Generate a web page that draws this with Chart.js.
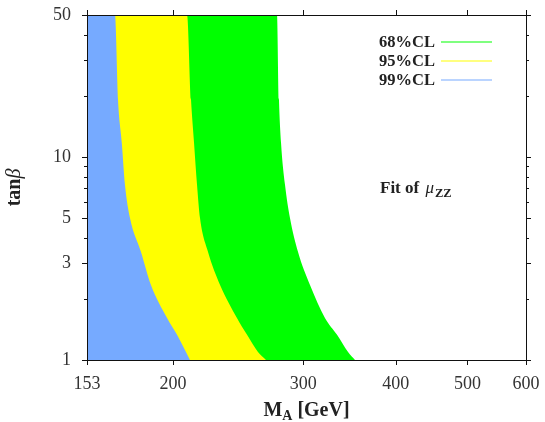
<!DOCTYPE html>
<html>
<head>
<meta charset="utf-8">
<script src="https://cdn.jsdelivr.net/npm/chart.js@4.4.0/dist/chart.umd.min.js"></script>
<style>
html, body { margin: 0; padding: 0; background: #fff; }
</style>
</head>
<body>
<canvas id="clChart" width="545" height="422"></canvas>
<script>
// boundaries of the allowed regions in the (M_A, tan beta) plane,
// read off the picture; the region lies left of / below each boundary
const tanBeta = [1, 1.095, 1.33, 1.61, 2.34, 3.4, 5.0, 7.27, 11.7, 19.1, 50];
const ma68 = [352.4, 344.8, 333.2, 320.9, 306.3, 295.1, 287.8, 283.4, 279.9, 278.1, 276.4];
const ma95 = [267.1, 260.5, 251.8, 244.0, 231.5, 223.0, 217.5, 215.5, 213.5, 211.5, 208.9];
const ma99 = [210.8, 208.2, 202.5, 196.3, 186.7, 181.0, 174.9, 172.2, 170.5, 168.5, 166.9];
const clLabels = ['68%CL', '95%CL', '99%CL'];
const clColors = ['#00ff00', '#ffff00', '#76aaff'];

const xMin = 153, xMax = 600;
const yMin = 1, yMax = 50;
const xTicks = [153, 200, 300, 400, 500, 600];
const yTicks = [1, 3, 5, 10, 50];
const yMinorTicks = [2, 4, 6, 7, 8, 9, 20, 30, 40];

const serif = '"Liberation Serif", "Times New Roman", serif';
const tickFont = { family: serif, size: 18 };

// boundary as y(x), sorted by M_A, closed along the top edge back to M_A = 153
const toPoints = (ma) => {
  const pts = ma.map((m, i) => ({ x: m, y: tanBeta[i] })).reverse();
  pts.unshift({ x: xMin, y: yMax });
  return pts;
};

const makeDataset = (k, ma, order) => ({
  label: clLabels[k],
  data: toPoints(ma),
  backgroundColor: clColors[k],
  borderColor: clColors[k],
  borderWidth: 0,
  pointRadius: 0,
  fill: 'start',
  cubicInterpolationMode: 'monotone',
  order: order
});

// the scales' label overflow would shrink the plot; layout padding handles it
const noOverflow = s => {
  s.paddingTop = 0; s.paddingBottom = 0;
  s.paddingLeft = 0; s.paddingRight = 0;
};

const framePlugin = {
  id: 'frame',
  afterDraw(chart) {
    const ctx = chart.ctx;
    const a = chart.chartArea;
    const xs = chart.scales.x, ys = chart.scales.y;
    ctx.save();
    ctx.strokeStyle = '#111';
    ctx.lineWidth = 1;
    ctx.strokeRect(Math.round(a.left) + 0.5, Math.round(a.top) + 0.5,
      Math.round(a.right - a.left), Math.round(a.bottom - a.top));
    ctx.beginPath();
    xTicks.forEach(v => {
      const px = Math.round(xs.getPixelForValue(v)) + 0.5;
      ctx.moveTo(px, a.bottom); ctx.lineTo(px, a.bottom + 5);
      ctx.moveTo(px, a.top); ctx.lineTo(px, a.top - 5);
    });
    yTicks.forEach(v => {
      const py = Math.round(ys.getPixelForValue(v)) + 0.5;
      ctx.moveTo(a.left, py); ctx.lineTo(a.left - 5, py);
      ctx.moveTo(a.right, py); ctx.lineTo(a.right + 5, py);
    });
    yMinorTicks.forEach(v => {
      const py = Math.round(ys.getPixelForValue(v)) + 0.5;
      ctx.moveTo(a.left, py); ctx.lineTo(a.left - 3, py);
      ctx.moveTo(a.right, py); ctx.lineTo(a.right + 3, py);
    });
    ctx.stroke();

    // legend: text right aligned, sample line to the right
    ctx.fillStyle = '#222';
    ctx.font = 'bold 16.5px ' + serif;
    ctx.textAlign = 'right';
    ctx.textBaseline = 'alphabetic';
    chart.data.datasets.forEach((ds, i) => {
      const yc = 41.5 + i * 19;
      ctx.fillText(ds.label, 435, yc + 5.5);
      ctx.strokeStyle = ds.borderColor;
      ctx.lineWidth = 1.2;
      ctx.beginPath();
      ctx.moveTo(441, yc + 0.5); ctx.lineTo(492, yc + 0.5);
      ctx.stroke();
    });

    // "Fit of mu_ZZ"
    ctx.textAlign = 'left';
    let x = 380;
    const by = 193;
    ctx.font = 'bold 17px ' + serif;
    ctx.fillText('Fit of ', x, by);
    x += ctx.measureText('Fit of ').width + 2;
    ctx.font = 'italic 17px ' + serif;
    ctx.fillText('\u03bc', x, by);
    x += ctx.measureText('\u03bc').width + 1;
    ctx.font = 'bold 12.5px ' + serif;
    ctx.fillText('ZZ', x, by + 4);

    // x title
    const mainF = 'bold 20px ' + serif, subF = 'bold 14px ' + serif;
    ctx.font = mainF;
    const wM = ctx.measureText('M').width;
    const wRest = ctx.measureText(' [GeV]').width;
    ctx.font = subF;
    const wA = ctx.measureText('A').width;
    let tx = (a.left + a.right) / 2 - (wM + wA + wRest) / 2;
    const ty = 416;
    ctx.font = mainF; ctx.fillText('M', tx, ty); tx += wM;
    ctx.font = subF; ctx.fillText('A', tx, ty + 4); tx += wA;
    ctx.font = mainF; ctx.fillText(' [GeV]', tx, ty);

    // y title
    ctx.translate(20, (a.top + a.bottom) / 2);
    ctx.rotate(-Math.PI / 2);
    ctx.font = 'bold 20px ' + serif;
    const wt = ctx.measureText('tan').width;
    ctx.font = 'italic 20px ' + serif;
    const wb = ctx.measureText('\u03b2').width;
    let yx = -(wt + wb) / 2;
    ctx.font = 'bold 20px ' + serif;
    ctx.fillText('tan', yx, 0);
    ctx.font = 'italic 20px ' + serif;
    ctx.fillText('\u03b2', yx + wt, 0);
    ctx.restore();
  }
};

const makeChart = () => {
  const ctx = document.getElementById('clChart').getContext('2d');
  return new Chart(ctx, {
    type: 'line',
    data: {
      datasets: [
        makeDataset(0, ma68, 3),
        makeDataset(1, ma95, 2),
        makeDataset(2, ma99, 1)
      ]
    },
    options: {
      responsive: false,
      animation: false,
      layout: { padding: { left: 0, right: 19, top: 15, bottom: 0 } },
      plugins: {
        legend: { display: false },
        tooltip: { enabled: false }
      },
      scales: {
        x: {
          type: 'logarithmic',
          position: 'bottom',
          min: xMin,
          max: xMax,
          afterBuildTicks: s => { s.ticks = xTicks.map(v => ({ value: v })) },
          afterFit: s => { s.height = 62; noOverflow(s) },
          grid: { display: false, drawTicks: false },
          border: { display: false },
          ticks: {
            font: tickFont, color: '#333', padding: 13,
            maxRotation: 0, autoSkip: false,
            callback: v => String(v)
          }
        },
        y: {
          type: 'logarithmic',
          position: 'left',
          min: yMin,
          max: yMax,
          afterBuildTicks: s => { s.ticks = yTicks.map(v => ({ value: v })) },
          afterFit: s => { s.width = 87; noOverflow(s) },
          grid: { display: false, drawTicks: false },
          border: { display: false },
          ticks: {
            font: tickFont, color: '#333', padding: 16,
            autoSkip: false,
            callback: v => String(v)
          }
        }
      }
    },
    plugins: [framePlugin]
  });
};

const chart = makeChart();
</script>
</body>
</html>
